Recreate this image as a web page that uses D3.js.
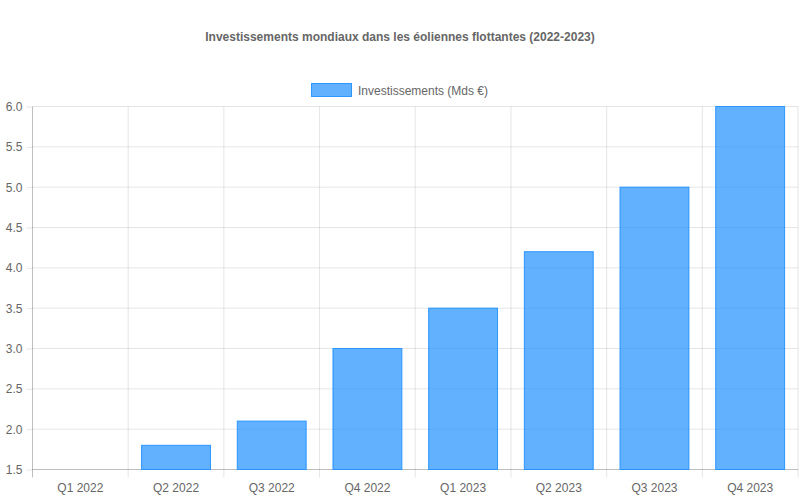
<!DOCTYPE html>
<html><head><meta charset="utf-8">
<script src="https://cdn.jsdelivr.net/npm/d3@7"></script>
<style>body{margin:0;background:#fff;} svg{display:block;font-family:"Liberation Sans",Arial,sans-serif;}</style>
</head><body>
<svg id="c" width="800" height="500"></svg>
<script>
const categories = ["Q1 2022","Q2 2022","Q3 2022","Q4 2022","Q1 2023","Q2 2023","Q3 2023","Q4 2023"];
const values = [1.5, 1.8, 2.1, 3.0, 3.5, 4.2, 5.0, 6.0];
const yTicks = [1.5, 2.0, 2.5, 3.0, 3.5, 4.0, 4.5, 5.0, 5.5, 6.0];
const title = "Investissements mondiaux dans les éoliennes flottantes (2022-2023)";
const seriesName = "Investissements (Mds €)";

const svg = d3.select("#c");
const m = {left: 32.5, right: 798, top: 106.5, bottom: 469.5};
const x = d3.scaleBand().domain(categories).range([m.left, m.right]).paddingInner(0).paddingOuter(0);
const y = d3.scaleLinear().domain([1.5, 6.0]).range([m.bottom, m.top]);
const fill = "rgba(30,144,255,0.7)", stroke = "rgba(30,144,255,0.9)";
const grid = "rgba(0,0,0,0.1)", axisC = "rgba(0,0,0,0.25)", txt = "#666";

// title
svg.append("text").attr("x", 400).attr("y", 41).attr("text-anchor","middle")
  .attr("font-size", 12).attr("font-weight","bold").attr("fill", txt).text(title);
// legend
svg.append("rect").attr("x", 311.5).attr("y", 83.5).attr("width", 40).attr("height", 13)
  .attr("fill", fill).attr("stroke", stroke).attr("stroke-width", 1);
svg.append("text").attr("x", 358).attr("y", 94.5).attr("font-size", 12).attr("fill", txt).text(seriesName);

// y grid
const yAxis = d3.axisLeft(y).tickValues(yTicks).tickFormat(d3.format(".1f")).tickSize(6).tickPadding(4);
const gy = svg.append("g").attr("transform", `translate(${m.left},0)`).call(yAxis);
gy.select(".domain").remove();
gy.selectAll(".tick line").attr("stroke", grid).attr("x2", 0).attr("x1", -6);
gy.selectAll(".tick text").attr("fill", txt).attr("font-size", 12).attr("font-family","Liberation Sans, Arial, sans-serif");
svg.append("g").selectAll("line").data(yTicks).join("line")
  .attr("x1", m.left).attr("x2", m.right).attr("y1", d => y(d)).attr("y2", d => y(d))
  .attr("stroke", d => d === 1.5 ? axisC : grid);

// x grid lines at category boundaries
const bounds = categories.map(c => x(c)).concat([m.right]);
svg.append("g").selectAll("line").data(bounds).join("line")
  .attr("x1", d => d).attr("x2", d => d).attr("y1", m.top).attr("y2", m.bottom + 8)
  .attr("stroke", (d,i) => i === 0 ? axisC : grid);
// x labels
const xAxis = d3.axisBottom(x).tickSize(0).tickPadding(14);
const gx = svg.append("g").attr("transform", `translate(0,${m.bottom})`).call(xAxis);
gx.select(".domain").remove();
gx.selectAll(".tick text").attr("fill", txt).attr("font-size", 12).attr("font-family","Liberation Sans, Arial, sans-serif");

// bars
const bw = x.bandwidth() * 0.72;
svg.append("g").selectAll("rect").data(values).join("rect")
  .attr("x", (d,i) => x(categories[i]) + (x.bandwidth() - bw) / 2)
  .attr("width", bw)
  .attr("y", d => y(d))
  .attr("height", d => y(1.5) - y(d))
  .attr("fill", fill).attr("stroke", stroke).attr("stroke-width", 1);
</script>
</body></html>
